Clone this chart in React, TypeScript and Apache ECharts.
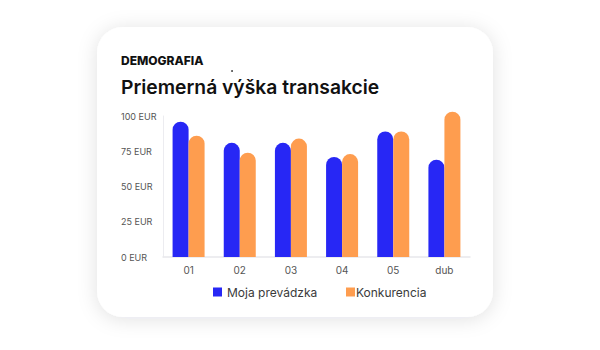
import React, { useEffect, useRef } from "react";
import * as echarts from "echarts";

const categories = ["01", "02", "03", "04", "05", "dub"];
const mojaPrevadzka = [96, 81, 81, 71, 89, 69];
const konkurencia = [86, 74, 84, 73, 89, 103];
const seriesNames = ["Moja prevádzka", "Konkurencia"];
const yTicks = [0, 25, 50, 75, 100];

const BLUE = "#2727f5";
const ORANGE = "#fe9d4f";
const FONT = "Inter, 'Noto Sans', sans-serif";

const legendText = { fontFamily: FONT, fontSize: 12, color: "#3a3a3a" };

export default function App() {
  const ref = useRef<HTMLDivElement>(null);

  useEffect(() => {
    if (!ref.current) return;
    const chart = echarts.init(ref.current, undefined, { renderer: "svg" });
    chart.setOption({
      animation: false,
      backgroundColor: "#ffffff",
      graphic: [
        {
          type: "rect",
          z: -10,
          silent: true,
          shape: { x: 97, y: 27, width: 396, height: 290, r: 26 },
          style: {
            fill: "#ffffff",
            shadowBlur: 20,
            shadowColor: "rgba(20,30,60,0.12)",
            shadowOffsetY: 2,
          },
        },
        {
          type: "text",
          left: 121,
          top: 54,
          style: {
            text: "DEMOGRAFIA",
            font: `800 12px ${FONT}`,
            fill: "#111111",
          },
        },
        {
          type: "text",
          left: 121,
          top: 77,
          style: {
            text: "Priemerná výška transakcie",
            font: `600 19.3px ${FONT}`,
            fill: "#111111",
          },
        },
        {
          type: "circle",
          shape: { cx: 232, cy: 71, r: 0.9 },
          style: { fill: "#333333" },
        },
      ],
      legend: [
        {
          data: [seriesNames[0]],
          left: 208,
          top: 281,
          itemWidth: 9,
          itemHeight: 9,
          icon: "rect",
          textStyle: { ...legendText, padding: [0, 0, 0, 0] },
        },
        {
          data: [seriesNames[1]],
          left: 341,
          top: 281,
          itemWidth: 9,
          itemHeight: 9,
          icon: "rect",
          textStyle: { ...legendText, padding: [0, 0, 0, -4] },
        },
      ],
      grid: { left: 163, right: 130, top: 116, bottom: 93 },
      xAxis: {
        type: "category",
        data: categories,
        axisLine: { lineStyle: { color: "#e8e8ec", width: 1.5 } },
        axisTick: { show: false },
        axisLabel: {
          color: "#555555",
          fontFamily: FONT,
          fontSize: 10,
          margin: 8,
        },
      },
      yAxis: {
        type: "value",
        min: 0,
        max: 100,
        interval: 25,
        axisLine: { show: true, lineStyle: { color: "#ececf0", width: 1 } },
        axisTick: { show: false },
        splitLine: { show: false },
        axisLabel: {
          color: "#555555",
          fontFamily: FONT,
          fontSize: 9,
          align: "left",
          margin: 42,
          formatter: (v: number) =>
            yTicks.includes(v) ? `${v} EUR` : "",
        },
      },
      series: [
        {
          name: seriesNames[0],
          type: "bar",
          data: mojaPrevadzka,
          barWidth: 16,
          barGap: "0%",
          clip: false,
          itemStyle: { color: BLUE, borderRadius: [8, 8, 0, 0] },
        },
        {
          name: seriesNames[1],
          type: "bar",
          data: konkurencia,
          barWidth: 16,
          clip: false,
          itemStyle: { color: ORANGE, borderRadius: [8, 8, 0, 0] },
        },
      ],
    });
    return () => chart.dispose();
  }, []);

  return (
    <div
      ref={ref}
      style={{ position: "fixed", left: 0, top: 0, width: 600, height: 350 }}
    />
  );
}
